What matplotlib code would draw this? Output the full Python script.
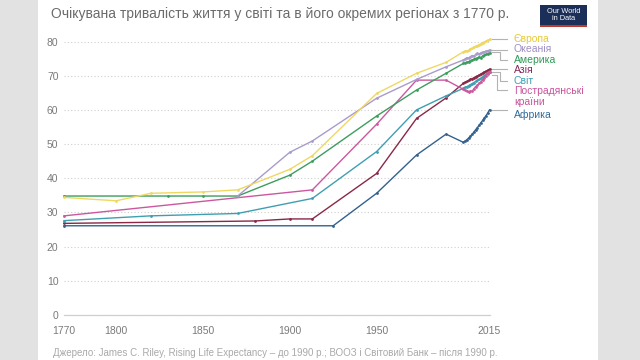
"""
Очікувана тривалість життя у світі та регіонах з 1770 р. (відтворення графіка OWID)
"""

import matplotlib
matplotlib.use("Agg")
import matplotlib.pyplot as plt
from matplotlib.patches import Rectangle

# ---------------------------------------------------------------------------
# Дані
# ---------------------------------------------------------------------------
YEARS_YEARLY = [2000, 2001, 2002, 2003, 2004, 2005, 2006, 2007,
                2008, 2009, 2010, 2011, 2012, 2013, 2014, 2015]

europe_years = [1770, 1800, 1820, 1850, 1870, 1900, 1913, 1950, 1973, 1990] + YEARS_YEARLY
europe_vals = [34.4, 33.4, 35.6, 36.0, 36.6, 42.6, 46.6, 64.8, 70.7, 73.9,
               77.0, 77.2, 77.3, 77.4, 77.9, 78.0, 78.4, 78.6,
               78.8, 79.1, 79.3, 79.7, 79.8, 80.1, 80.4, 80.6]

oceania_years = [1870, 1900, 1913, 1950, 1973, 1990] + YEARS_YEARLY
oceania_vals = [34.8, 47.6, 50.9, 63.4, 68.9, 72.6,
                74.6, 74.9, 75.3, 75.1, 75.6, 75.9, 75.8, 76.2,
                76.5, 76.3, 76.7, 76.9, 77.0, 77.2, 77.3, 77.5]

americas_years = [1770, 1830, 1850, 1870, 1900, 1913, 1950, 1973, 1990] + YEARS_YEARLY
americas_vals = [34.8, 34.8, 34.8, 34.8, 40.9, 45.0, 58.2, 65.8, 70.7,
                 73.6, 73.8, 74.0, 74.1, 74.4, 74.6, 74.8, 75.0,
                 75.2, 75.5, 75.2, 75.8, 76.0, 76.2, 76.4, 76.7]

asia_years = [1770, 1880, 1900, 1913, 1950, 1973, 1990] + YEARS_YEARLY
asia_vals = [26.8, 27.5, 28.1, 28.1, 41.4, 57.5, 63.5,
             67.8, 68.1, 68.3, 68.6, 68.9, 69.1, 69.4, 69.7,
             69.9, 70.2, 70.5, 70.8, 71.1, 71.3, 71.6, 71.9]

world_years = [1770, 1820, 1870, 1913, 1950, 1973, 1990] + YEARS_YEARLY
world_vals = [27.6, 29.0, 29.7, 34.1, 47.8, 60.0, 64.1,
              66.3, 66.6, 66.8, 67.1, 67.4, 67.7, 68.0, 68.3,
              68.6, 68.9, 69.2, 69.6, 70.0, 70.4, 70.8, 71.2]

fsu_years = [1770, 1913, 1950, 1973, 1990] + YEARS_YEARLY
fsu_vals = [29.0, 36.6, 55.8, 68.7, 68.7,
            66.0, 65.8, 65.6, 65.3, 65.5, 65.4, 66.2, 66.8,
            67.2, 67.8, 68.2, 68.8, 69.4, 70.0, 70.6, 71.2]

africa_years = [1770, 1925, 1950, 1973, 1990] + YEARS_YEARLY
africa_vals = [26.1, 26.1, 35.6, 46.8, 52.9,
               50.5, 50.9, 51.3, 51.8, 52.3, 52.9, 53.5, 54.2,
               54.8, 55.5, 56.2, 56.9, 57.6, 58.3, 59.1, 60.0]

X_TICKS = [1770, 1800, 1850, 1900, 1950, 2015]
Y_TICKS = [0, 10, 20, 30, 40, 50, 60, 70, 80]

TITLE = "Очікувана тривалість життя у світі та в його окремих регіонах з 1770 р."
SOURCE = ("Джерело: James C. Riley, Rising Life Expectancy – до 1990 р.; "
          "ВООЗ і Світовий Банк – після 1990 р.")

# Кольори
C_EUROPE = "#efd862"
C_OCEANIA = "#a99bcb"
C_AMERICAS = "#3c9d5d"
C_ASIA = "#8a2846"
C_WORLD = "#3f9fb2"
C_FSU = "#cb589f"
C_AFRICA = "#33618f"

plt.rcParams.update({
    "font.family": ["Liberation Sans", "DejaVu Sans"],
})

W, H = 640, 360
fig = plt.figure(figsize=(6.4, 3.6), dpi=100, facecolor="#e2e2e2")
fig.patches.append(Rectangle((38 / W, 0), (598 - 38) / W, 1, transform=fig.transFigure,
                             facecolor="white", edgecolor="none", zorder=-5))

ax = fig.add_axes([64 / W, 45 / H, (489.5 - 64) / W, (315 - 41.5) / H])
ax.patch.set_alpha(0)
ax.set_zorder(5)

series = [
    (africa_years, africa_vals, C_AFRICA),
    (asia_years, asia_vals, C_ASIA),
    (world_years, world_vals, C_WORLD),
    (fsu_years, fsu_vals, C_FSU),
    (americas_years, americas_vals, C_AMERICAS),
    (oceania_years, oceania_vals, C_OCEANIA),
    (europe_years, europe_vals, C_EUROPE),
]
for yrs, vals, col in series:
    ax.plot(yrs, vals, color=col, lw=1.0, marker="o", ms=2.0, mew=0,
            clip_on=False, zorder=3)

ax.set_xlim(1770, 2015)
ax.set_ylim(0, 80)
ax.set_xticks(X_TICKS)
ax.set_yticks(Y_TICKS)
ax.tick_params(axis="both", length=0, labelsize=7.5, colors="#7a7a7a")
ax.tick_params(axis="x", pad=8)
ax.tick_params(axis="y", pad=4)
for s in ["top", "right", "left"]:
    ax.spines[s].set_visible(False)
ax.spines["bottom"].set_color("#cfcfcf")
ax.spines["bottom"].set_linewidth(0.9)
ax.yaxis.grid(True, color="#cfcfcf", linestyle=(0, (1, 2)), lw=0.8)
ax.set_axisbelow(True)

# Підписи справа з виносками
labels = [
    # текст, колір, y початку, y кінця, y тексту, x злому
    ("Європа", "#e6c93a", 80.6, 80.6, 80.7, 2021),
    ("Океанія", "#9d8fc4", 77.6, 77.6, 77.7, 2021),
    ("Америка", "#2f9a55", 76.8, 74.6, 74.5, 2021),
    ("Азія", "#86285e", 72.1, 72.1, 71.6, 2021),
    ("Світ", "#3a9fb5", 71.0, 68.5, 68.4, 2021),
    ("Пострадянські\nкраїни", "#c9539c", 70.2, 65.7, 63.9, 2019.5),
    ("Африка", "#2f6b9c", 60.0, 60.0, 58.6, 2021),
]
for text, col, y0, y1, yt, xe in labels:
    ax.plot([2016.3, xe, xe, 2025.2], [y0, y0, y1, y1], color="#b3b3b3", lw=0.8,
            clip_on=False, zorder=2)
    ax.text(2029, yt, text, color=col, fontsize=7.5, va="center", ha="left",
            linespacing=1.15, clip_on=False)

# Заголовок
fig.text(51 / W, 1 - 14 / H, TITLE, fontsize=10, color="#6b6b6b", va="center", ha="left")

# Логотип OWID
fig.patches.append(Rectangle((540 / W, 1 - 27 / H), 47 / W, 22 / H, transform=fig.transFigure,
                             facecolor="#1b2f58", edgecolor="none", zorder=1))
fig.patches.append(Rectangle((540 / W, 1 - 27 / H), 47 / W, 2.5 / H, transform=fig.transFigure,
                             facecolor="#c0392b", edgecolor="none", zorder=2))
fig.text(563.5 / W, 1 - 15 / H, "Our World\nin Data", fontsize=5.3, color="white",
         ha="center", va="center", linespacing=0.95, zorder=3)

# Джерело
fig.text(53 / W, 1 - 353 / H, SOURCE, fontsize=7, color="#a9a9a9", va="center", ha="left")

fig.savefig("out.png", dpi=100, facecolor=fig.get_facecolor())
plt.close(fig)
